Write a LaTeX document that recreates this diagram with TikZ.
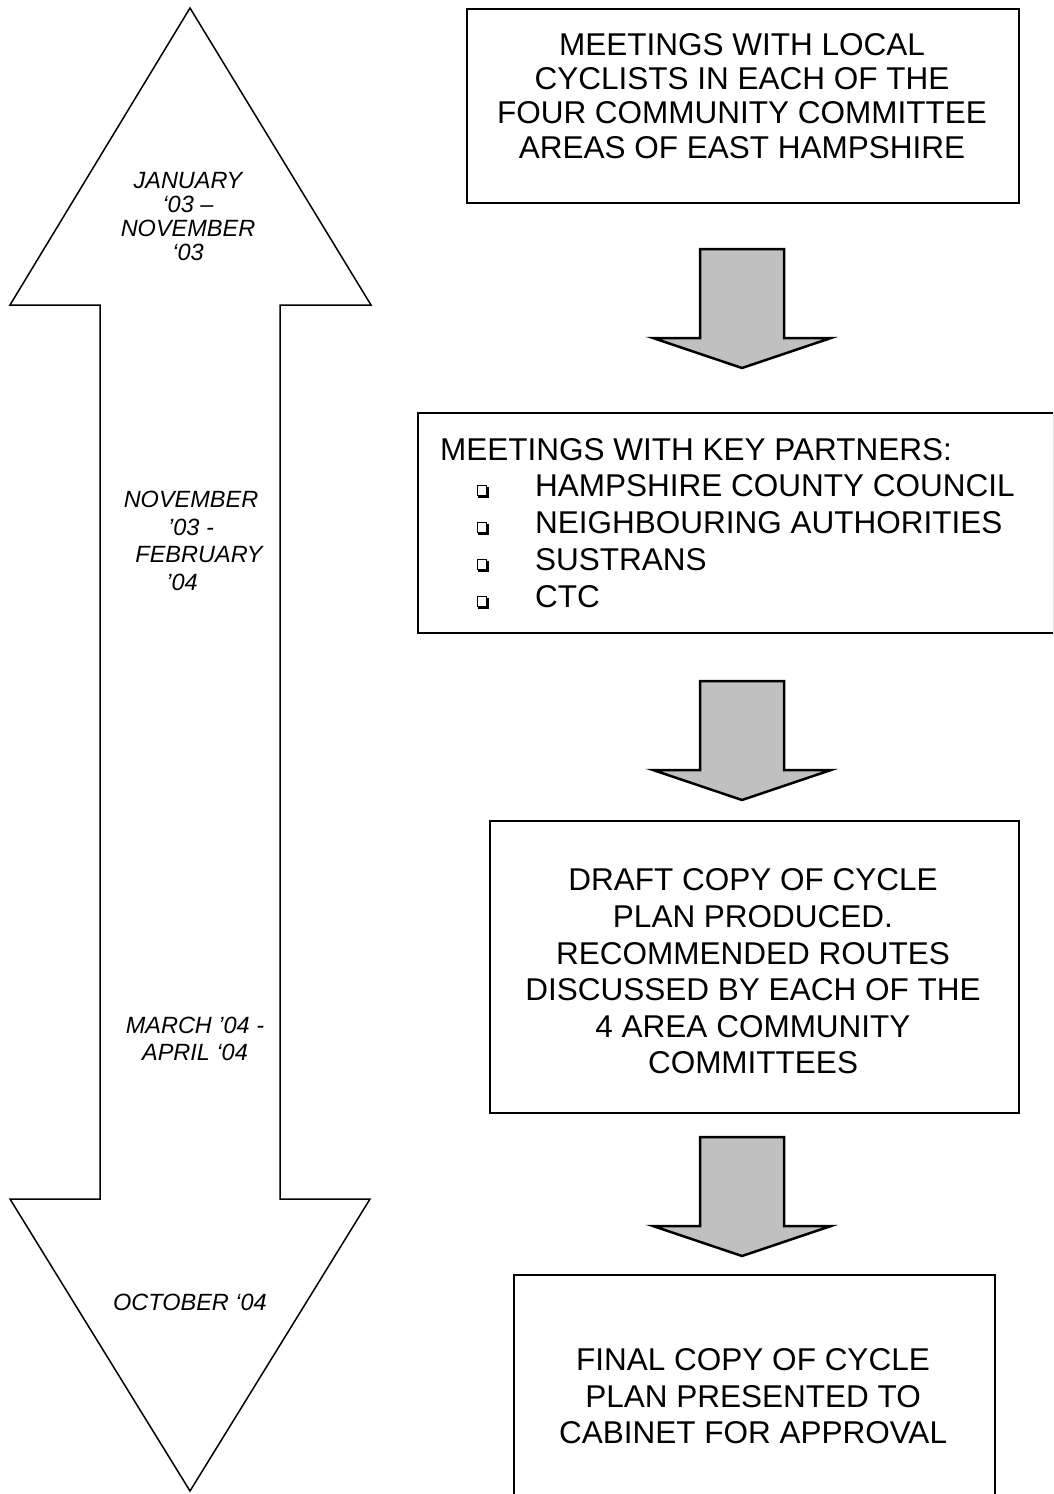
\documentclass[tikz,border=0pt]{standalone}
\usepackage{fontspec}
\setmainfont{Liberation Sans}
\definecolor{arrowgray}{HTML}{C0C0C0}
\begin{document}
\begin{tikzpicture}[x=1pt,y=-1pt,
  box/.style={draw, line width=2pt, inner sep=0pt, anchor=north west},
  blockarrow/.pic={\draw[draw=black, line width=2.5pt, fill=arrowgray, line join=miter]
     (-42,0) -- (42,0) -- (42,89) -- (89,89) -- (0,119) -- (-89,89) -- (-42,89) -- cycle;},
  datetext/.style={font=\fontsize{23.5}{24.3}\selectfont\itshape, align=center, inner sep=0pt},
  boxtext/.style={font=\fontsize{31.5}{36.6}\selectfont, align=center, inner sep=0pt},
  listtext/.style={font=\fontsize{31.5}{36}\selectfont, inner sep=0pt, anchor=base west},
  bulletsq/.style={draw, line width=0.9pt, minimum size=9.5pt, inner sep=0pt}
]
\useasboundingbox (0,0) rectangle (1053,1494);
\clip (0,0) rectangle (1053,1494);
\fill[white] (0,0) rectangle (1053,1494);

% big double-headed timeline arrow
\draw[line width=1.5pt, line join=miter]
  (190,8) -- (371,305) -- (280,305) -- (280,1199) -- (370,1199) -- (190,1491)
  -- (10,1199) -- (100,1199) -- (100,305) -- (10,305) -- cycle;

% date labels
\node[datetext] (d1) at (188,216.5) {JANUARY\\‘03 –\\NOVEMBER\\‘03};
\node[datetext, font=\fontsize{23.5}{27.5}\selectfont\itshape] (d2) at (191,541)
  {NOVEMBER\\’03 -\\\hspace*{16pt}FEBRUARY\\’04\hspace*{18pt}};
\node[datetext, font=\fontsize{23.5}{27}\selectfont\itshape] (d3) at (195,1038.5) {MARCH ’04 -\\APRIL ‘04};
\node[datetext] (d4) at (190,1302) {OCTOBER ‘04};

% boxes
\node[box, minimum width=552pt, minimum height=194pt] (b1) at (466,8) {};
\node[box, minimum width=636pt, minimum height=220pt] (b2) at (417,412) {};
\node[box, minimum width=529pt, minimum height=292pt] (b3) at (489,820) {};
\node[box, minimum width=481pt, minimum height=260pt] (b4) at (513,1274) {};

% box texts
\node[boxtext, font=\fontsize{31.5}{34.3}\selectfont] (t1) at (742,96)
  {MEETINGS WITH LOCAL\\CYCLISTS IN EACH OF THE\\FOUR COMMUNITY COMMITTEE\\AREAS OF EAST HAMPSHIRE};

\node[listtext] (t2) at (440,460.3) {MEETINGS WITH KEY PARTNERS:};
\node[listtext] (i1) at (535,496.3) {HAMPSHIRE COUNTY COUNCIL};
\node[listtext] (i2) at (535,533.3) {NEIGHBOURING AUTHORITIES};
\node[listtext] (i3) at (535,570.3) {SUSTRANS};
\node[listtext] (i4) at (535,607.3) {CTC};
\foreach \n/\yy in {1/490.5,2/527.5,3/564.5,4/601.5}{
  \node[bulletsq] (s\n) at (482,\yy) {};
  \draw[line width=1.8pt] ([xshift=1.5pt,yshift=-0.9pt]s\n.south west) -- ([xshift=0.9pt,yshift=-0.9pt]s\n.south east) -- ([xshift=0.9pt,yshift=-1.5pt]s\n.north east);
}

\node[boxtext] (t3) at (753,971.5)
  {DRAFT COPY OF CYCLE\\PLAN PRODUCED.\\RECOMMENDED ROUTES\\DISCUSSED BY EACH OF THE\\4 AREA COMMUNITY\\COMMITTEES};
\node[boxtext] (t4) at (753,1396.5)
  {FINAL COPY OF CYCLE\\PLAN PRESENTED TO\\CABINET FOR APPROVAL};

% grey block arrows between boxes
\pic at (742,249) {blockarrow};
\pic at (742,681) {blockarrow};
\pic at (742,1137) {blockarrow};
\end{tikzpicture}
\end{document}
